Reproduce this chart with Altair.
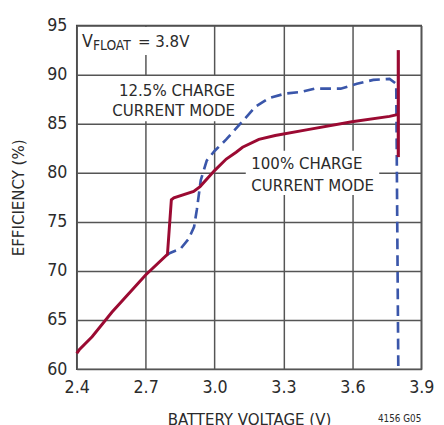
import altair as alt
import pandas as pd

# ---- data ----
red_x = [2.40, 2.411, 2.467, 2.553, 2.70, 2.795, 2.812, 2.823, 2.909, 2.937, 3.001, 3.051,
         3.094, 3.122, 3.193, 3.264, 3.406, 3.598, 3.762, 3.80]
red_y = [61.6, 61.97, 63.3, 65.8, 69.6, 71.7, 77.25, 77.45, 78.1, 78.6, 80.25, 81.4,
         82.1, 82.6, 83.4, 83.8, 84.4, 85.2, 85.75, 85.95]

red_rule_x = [3.80]
red_rule_y = [81.6]
red_rule_y2 = [92.5]

blue_x = [2.79, 2.809, 2.852, 2.887, 2.911, 2.923, 2.94, 2.966, 3.001, 3.051, 3.122, 3.179,
          3.236, 3.307, 3.378, 3.435, 3.549, 3.62, 3.691, 3.762, 3.791, 3.80]
blue_y = [71.6, 71.86, 72.26, 73.26, 74.5, 76.25, 79.25, 81.25, 82.25, 83.4, 85.25, 86.75,
          87.6, 88.07, 88.24, 88.57, 88.57, 89.07, 89.47, 89.57, 89.07, 60.0]

x_ticks = [2.4, 2.7, 3.0, 3.3, 3.6, 3.9]
y_ticks = [60, 65, 70, 75, 80, 85, 90, 95]

# annotation texts (data coordinates)
left_labels = ["100% CHARGE", "CURRENT MODE"]
left_x = [3.160, 3.160]
left_y = [80.35, 78.18]
right_labels = ["12.5% CHARGE", "CURRENT MODE"]
right_x = [3.089, 3.089]
right_y = [87.84, 85.74]

# white boxes behind annotations (data coordinates)
box_x = [2.41, 2.539, 3.136]
box_x2 = [2.88, 3.115, 3.717]
box_y = [92.0, 85.25, 77.75]
box_y2 = [94.85, 89.85, 82.25]

FONT = "DejaVu Sans Condensed, Liberation Sans Narrow, sans-serif"
RED = "#9b0a32"
BLUE = "#3a56aa"
TXT = "#2b2b2b"

red_df = pd.DataFrame({"x": red_x, "y": red_y, "i": range(len(red_x))})
blue_df = pd.DataFrame({"x": blue_x, "y": blue_y, "i": range(len(blue_x))})
rule_df = pd.DataFrame({"x": red_rule_x, "y": red_rule_y, "y2": red_rule_y2})
left_df = pd.DataFrame({"t": left_labels, "x": left_x, "y": left_y})
right_df = pd.DataFrame({"t": right_labels, "x": right_x, "y": right_y})
box_df = pd.DataFrame({"x": box_x, "x2": box_x2, "y": box_y, "y2": box_y2})

xs = alt.Scale(domain=[2.4, 3.9], nice=False, zero=False)
ys = alt.Scale(domain=[60, 95], nice=False, zero=False)

xax = alt.Axis(values=x_ticks, format=".1f", title="BATTERY VOLTAGE (V)", grid=True,
               gridColor="#555555", gridWidth=1.5, gridOpacity=1, domain=False, ticks=False,
               labelFont=FONT, labelFontSize=18, labelColor=TXT, labelPadding=10,
               labelFlush=False, labelOverlap=False,
               titleFont=FONT, titleFontSize=17, titleFontWeight="normal", titleColor=TXT,
               titlePadding=15)
yax = alt.Axis(values=y_ticks, title="EFFICIENCY (%)", grid=True,
               gridColor="#555555", gridWidth=1.5, gridOpacity=1, domain=False, ticks=False,
               labelFont=FONT, labelFontSize=18, labelColor=TXT, labelPadding=10,
               labelFlush=False, labelOverlap=False,
               titleFont=FONT, titleFontSize=17, titleFontWeight="normal", titleColor=TXT,
               titlePadding=20)

base_x = alt.X("x:Q", scale=xs, axis=xax)
base_y = alt.Y("y:Q", scale=ys, axis=yax)

boxes = alt.Chart(box_df).mark_rect(color="white").encode(
    x=base_x, x2="x2", y=base_y, y2="y2")

blue = alt.Chart(blue_df).mark_line(color=BLUE, strokeWidth=2.7, strokeDash=[11, 6]).encode(
    x=base_x, y=base_y, order="i:Q")

red = alt.Chart(red_df).mark_line(color=RED, strokeWidth=3).encode(
    x=base_x, y=base_y, order="i:Q")

rule = alt.Chart(rule_df).mark_rule(color=RED, strokeWidth=3.2).encode(
    x=base_x, y=base_y, y2="y2")

labs_l = alt.Chart(left_df).mark_text(font=FONT, fontSize=17, color=TXT, align="left",
                                      baseline="alphabetic").encode(
    x=base_x, y=base_y, text="t:N")
labs_r = alt.Chart(right_df).mark_text(font=FONT, fontSize=17, color=TXT, align="right",
                                       baseline="alphabetic").encode(
    x=base_x, y=base_y, text="t:N")

vf1 = alt.Chart(pd.DataFrame({"x": [2.4235], "y": [92.84], "t": ["V"]})).mark_text(
    font=FONT, fontSize=18, color=TXT, align="left", baseline="alphabetic").encode(
    x=base_x, y=base_y, text="t:N")
vf2 = alt.Chart(pd.DataFrame({"x": [2.4704], "y": [92.54], "t": ["FLOAT"]})).mark_text(
    font=FONT, fontSize=14, color=TXT, align="left", baseline="alphabetic").encode(
    x=base_x, y=base_y, text="t:N")
vf3 = alt.Chart(pd.DataFrame({"x": [2.6667], "y": [92.84], "t": ["= 3.8V"]})).mark_text(
    font=FONT, fontSize=17, color=TXT, align="left", baseline="alphabetic").encode(
    x=base_x, y=base_y, text="t:N")

code = alt.Chart(pd.DataFrame({"x": [3.9], "y": [54.6], "t": ["4156 G05"]})).mark_text(
    font=FONT, fontSize=10, color=TXT, align="right", baseline="alphabetic").encode(
    x=base_x, y=base_y, text="t:N")

chart = alt.layer(boxes, blue, red, rule, labs_l, labs_r, vf1, vf2, vf3, code).properties(
    width=351, height=350,
    autosize=alt.AutoSizeParams(type="none"),
    padding={"left": 70, "top": 14, "right": 15, "bottom": 53},
).configure_view(stroke="#444444", strokeWidth=1.5)

chart.save("out.html", embed_options={"renderer": "svg", "actions": False})
